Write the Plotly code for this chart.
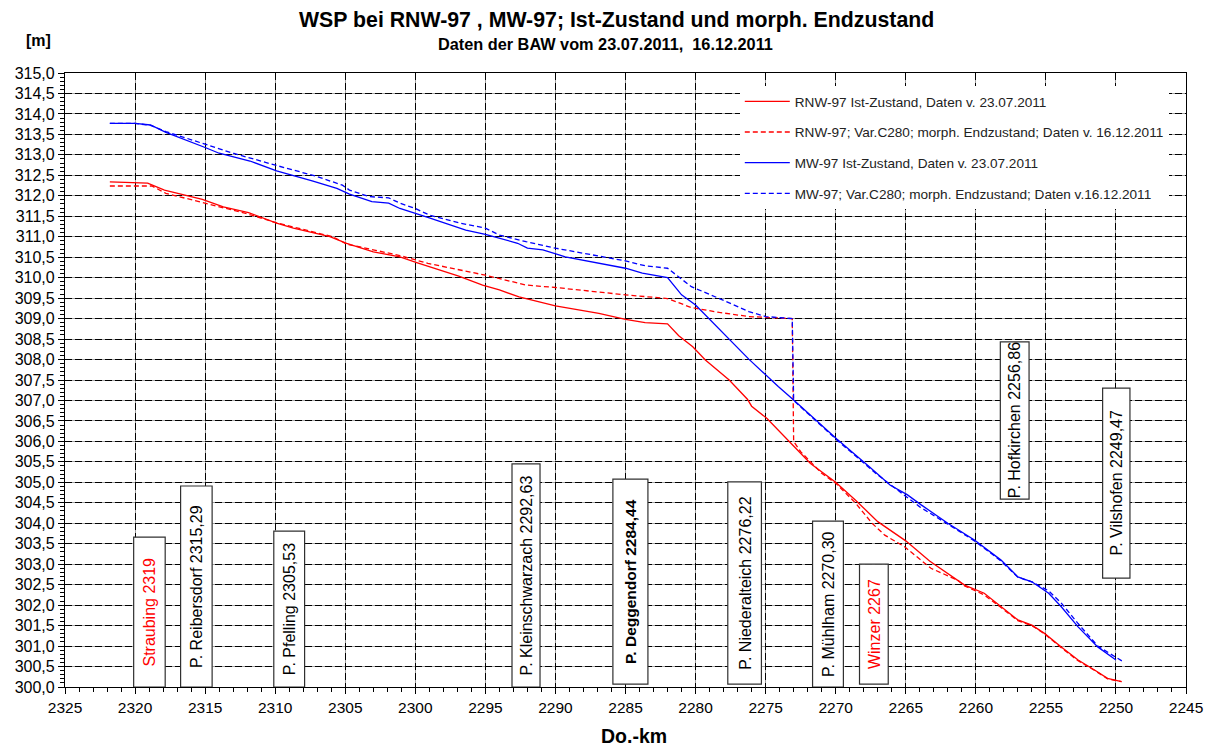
import plotly.graph_objects as go

# ---------------- data ----------------
mw_ist_km = [2321.8, 2320.0, 2318.9, 2317.8, 2315.0, 2314.0, 2311.8, 2309.9, 2307.3, 2305.6,
             2304.7, 2303.1, 2301.9, 2301.1, 2299.0, 2296.4, 2295.0, 2292.7, 2292.0, 2290.9,
             2289.3, 2285.0, 2283.8, 2282.0, 2281.0, 2280.0, 2276.2, 2274.9, 2274.1, 2273.0,
             2271.8, 2269.9, 2267.6, 2266.1, 2264.9, 2263.9, 2262.0, 2260.1, 2258.2, 2257.0,
             2256.0, 2254.8, 2253.9, 2252.7, 2251.3, 2250.0]
mw_ist_wsp = [313.77, 313.77, 313.73, 313.55, 313.18, 313.04, 312.85, 312.61, 312.36, 312.18,
              312.04, 311.86, 311.82, 311.69, 311.46, 311.16, 311.06, 310.84, 310.72, 310.68,
              310.51, 310.23, 310.11, 310.00, 309.58, 309.33, 308.01, 307.58, 307.34, 307.01,
              306.64, 306.05, 305.38, 304.93, 304.70, 304.45, 304.00, 303.59, 303.10, 302.69,
              302.57, 302.29, 301.96, 301.47, 300.98, 300.66]

mw_end_km = [2321.8, 2320.0, 2318.9, 2317.8, 2315.0, 2313.0, 2309.9, 2307.1, 2305.2, 2304.7,
             2303.3, 2301.9, 2301.1, 2300.0, 2299.0, 2296.9, 2295.0, 2294.0, 2292.1, 2290.0,
             2285.0, 2283.6, 2282.0, 2280.3, 2278.3, 2276.2, 2275.0, 2273.1, 2273.0, 2271.8,
             2269.9, 2267.0, 2265.2, 2264.0, 2262.0, 2260.1, 2258.2, 2257.0, 2256.0, 2254.8,
             2253.9, 2252.7, 2251.3, 2250.0, 2249.4]
mw_end_wsp = [313.77, 313.77, 313.72, 313.57, 313.26, 313.04, 312.74, 312.48, 312.26, 312.14,
              311.98, 311.95, 311.82, 311.69, 311.53, 311.34, 311.21, 311.04, 310.88, 310.72,
              310.41, 310.29, 310.23, 309.78, 309.49, 309.17, 309.05, 309.00, 307.00, 306.62,
              306.03, 305.18, 304.72, 304.40, 303.98, 303.57, 303.08, 302.68, 302.57, 302.35,
              302.05, 301.55, 301.00, 300.72, 300.60]

rnw_ist_km = [2321.8, 2319.1, 2317.9, 2315.2, 2313.7, 2311.9, 2309.9, 2308.7, 2306.1, 2304.9,
              2303.0, 2301.1, 2299.9, 2296.9, 2295.2, 2294.0, 2292.6, 2290.0, 2286.9, 2285.0,
              2283.6, 2282.0, 2281.2, 2280.2, 2279.3, 2277.6, 2276.3, 2276.0, 2274.9, 2274.1,
              2273.0, 2271.8, 2270.0, 2268.6, 2267.0, 2265.0, 2263.3, 2260.8, 2259.4, 2258.2,
              2257.0, 2256.0, 2255.1, 2253.9, 2252.7, 2251.5, 2250.6, 2249.6]
rnw_ist_wsp = [312.34, 312.31, 312.14, 311.91, 311.73, 311.59, 311.33, 311.21, 311.00, 310.84,
               310.63, 310.51, 310.37, 310.04, 309.82, 309.70, 309.53, 309.31, 309.13, 308.98,
               308.90, 308.87, 308.58, 308.31, 307.99, 307.50, 307.03, 306.86, 306.56, 306.28,
               305.90, 305.46, 305.00, 304.57, 304.04, 303.57, 303.08, 302.49, 302.29, 301.96,
               301.64, 301.51, 301.31, 300.98, 300.66, 300.41, 300.21, 300.13]

rnw_end_km = [2321.8, 2318.8, 2317.8, 2315.0, 2312.1, 2309.9, 2305.9, 2304.9, 2302.6, 2301.1,
              2299.1, 2296.9, 2295.0, 2292.1, 2290.0, 2285.0, 2282.0, 2280.3, 2278.3, 2276.2,
              2275.0, 2273.1, 2273.0, 2272.5, 2271.0, 2270.0, 2268.6, 2267.4, 2266.5, 2265.1,
              2263.2, 2261.3, 2260.8, 2259.4, 2258.2, 2257.0, 2256.0, 2255.1, 2253.9, 2252.7,
              2251.5, 2250.6, 2249.6]
rnw_end_wsp = [312.24, 312.24, 312.06, 311.82, 311.57, 311.34, 311.00, 310.82, 310.66, 310.54,
               310.35, 310.20, 310.06, 309.82, 309.76, 309.58, 309.49, 309.27, 309.15, 309.05,
               309.03, 309.00, 306.00, 305.75, 305.22, 304.98, 304.50, 304.00, 303.71, 303.43,
               302.90, 302.61, 302.47, 302.25, 301.94, 301.62, 301.50, 301.30, 300.96, 300.64,
               300.40, 300.20, 300.13]

series_names = ["RNW-97 Ist-Zustand, Daten v. 23.07.2011",
                "RNW-97; Var.C280; morph. Endzustand; Daten v. 16.12.2011",
                "MW-97 Ist-Zustand, Daten v. 23.07.2011",
                "MW-97; Var.C280; morph. Endzustand; Daten v.16.12.2011"]

# station labels: text, km from / to of box, box bottom / top (m), text colour, bold
station_text = ["Straubing 2319", "P. Reibersdorf 2315,29", "P. Pfelling 2305,53",
                "P. Kleinschwarzach 2292,63", "P. Deggendorf 2284,44", "P. Niederalteich 2276,22",
                "P. Mühlham 2270,30", "Winzer 2267", "P. Hofkirchen 2256,86", "P. Vilshofen 2249,47"]
station_x0 = [2320.1, 2316.75, 2310.1, 2293.1, 2285.9, 2277.7, 2271.65, 2268.3, 2258.25, 2250.95]
station_x1 = [2317.85, 2314.5, 2307.9, 2291.1, 2283.4, 2275.3, 2269.45, 2266.25, 2256.2, 2249.0]
station_y0 = [300.0, 300.0, 300.0, 300.0, 300.07, 300.07, 300.0, 300.07, 304.59, 302.66]
station_y1 = [303.66, 304.91, 303.81, 305.45, 305.08, 305.01, 304.05, 303.0, 308.43, 307.30]
station_col = ["#ff0000", "#000000", "#000000", "#000000", "#000000", "#000000",
               "#000000", "#ff0000", "#000000", "#000000"]
station_bold = [False, False, False, False, True, False, False, False, False, False]

x_range = [2325, 2245]
y_range = [300, 315]

# ---------------- figure ----------------
FONT = "Liberation Sans, Arial, sans-serif"
RED = "#ff0000"
BLUE = "#0000ff"

fig = go.Figure()
fig.add_trace(go.Scatter(x=rnw_ist_km, y=rnw_ist_wsp, mode="lines", name=series_names[0],
                         legendgroup="a", line=dict(color=RED, width=1.3)))
fig.add_trace(go.Scatter(x=rnw_end_km, y=rnw_end_wsp, mode="lines", name=series_names[1],
                         legendgroup="b", line=dict(color=RED, width=1.3, dash="5px,3px")))
fig.add_trace(go.Scatter(x=mw_ist_km, y=mw_ist_wsp, mode="lines", name=series_names[2],
                         legendgroup="c", line=dict(color=BLUE, width=1.3)))
fig.add_trace(go.Scatter(x=mw_end_km, y=mw_end_wsp, mode="lines", name=series_names[3],
                         legendgroup="d", line=dict(color=BLUE, width=1.3, dash="5px,3px")))
# empty trace so that the overlay axes (dashed black grid) are drawn
fig.add_trace(go.Scatter(x=[], y=[], xaxis="x2", yaxis="y2", mode="lines",
                         showlegend=False, hoverinfo="skip"))

for t, x0, x1, y0, y1, c, b in zip(station_text, station_x0, station_x1, station_y0,
                                   station_y1, station_col, station_bold):
    fig.add_shape(type="rect", xref="x", yref="y", x0=x0, x1=x1, y0=y0, y1=y1,
                  fillcolor="white", line=dict(color="#303030", width=1.2), layer="above")
    fig.add_annotation(x=(x0 + x1) / 2, y=(y0 + y1) / 2, xref="x", yref="y",
                       text=f"<b>{t}</b>" if b else t,
                       textangle=-90, showarrow=False,
                       font=dict(family=FONT, size=16 if not b else 15.5, color=c))

L, R, T, B = 65, 27, 73, 62
W, H = 1215, 749
pw, ph = W - L - R, H - T - B


def px(xp):
    return (xp - L) / pw


def py(yp):
    return (H - B - yp) / ph


def paper_text(x, y, text, size):
    fig.add_annotation(x=px(x), y=py(y), xref="paper", yref="paper", text=text,
                       xanchor="center", yanchor="middle", showarrow=False,
                       font=dict(family=FONT, size=size, color="black"))


paper_text(38, 41, "<b>[m]</b>", 16)
paper_text(617, 20, "<b>WSP bei RNW-97 , MW-97; Ist-Zustand und morph. Endzustand</b>", 21.3)
paper_text(606, 44, "<b>Daten der BAW vom 23.07.2011,  16.12.2011</b>", 16.3)
paper_text(635, 736, "<b>Do.-km</b>", 19.5)

common_x = dict(range=x_range, tick0=2325, dtick=5)
common_y = dict(range=y_range, tick0=300, dtick=0.5)

fig.update_layout(
    width=W, height=H,
    margin=dict(l=L, r=R, t=T, b=B),
    paper_bgcolor="white", plot_bgcolor="white",
    separators=",.",
    font=dict(family=FONT, color="black"),
    showlegend=True,
    legend=dict(x=px(741), y=py(86), xanchor="left", yanchor="top",
                bgcolor="white", borderwidth=0, tracegroupgap=10,
                traceorder="grouped", itemwidth=45,
                font=dict(family=FONT, size=13.6, color="#222")),
    xaxis=dict(**common_x, tickformat="d", showgrid=True, gridcolor="#a0a0a0", gridwidth=1,
               showline=True, linecolor="black", linewidth=1.2, mirror=True,
               ticks="outside", ticklen=6, tickcolor="black",
               tickfont=dict(family=FONT, size=15.5, color="black"),
               minor=dict(dtick=1, ticks="outside", ticklen=4, tickcolor="black", showgrid=False),
               zeroline=False),
    yaxis=dict(**common_y, tickformat=".1f", showgrid=True, gridcolor="#a0a0a0", gridwidth=1,
               showline=True, linecolor="black", linewidth=1.2, mirror=True,
               ticks="outside", ticklen=6, tickcolor="black",
               tickfont=dict(family=FONT, size=16, color="black"),
               minor=dict(dtick=0.1, ticks="outside", ticklen=4, tickcolor="black", showgrid=False),
               zeroline=False),
    xaxis2=dict(**common_x, overlaying="x", showgrid=True, gridcolor="#000000", gridwidth=1,
                griddash="7px,3px", showticklabels=False, ticks="", showline=False,
                zeroline=False),
    yaxis2=dict(**common_y, overlaying="y", showgrid=True, gridcolor="#000000", gridwidth=1,
                griddash="7px,3px", showticklabels=False, ticks="", showline=False,
                zeroline=False),
)

fig.write_html("out.html")
